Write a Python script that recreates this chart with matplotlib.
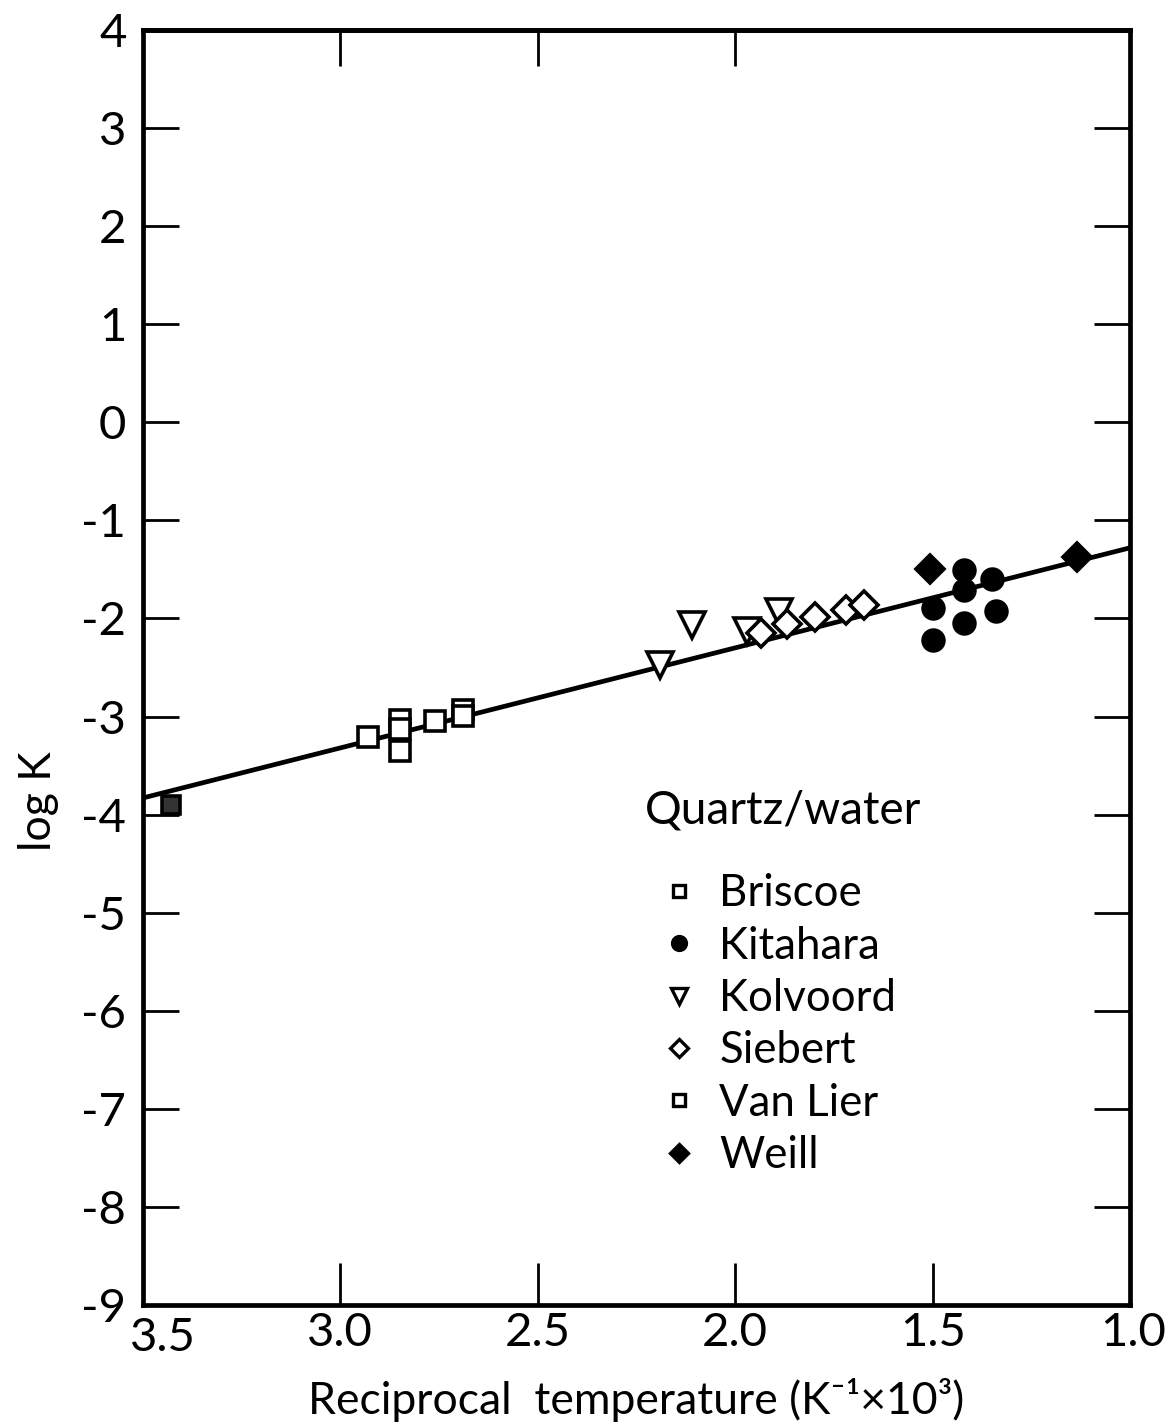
import matplotlib
matplotlib.use("Agg")
import matplotlib.pyplot as plt
import matplotlib.transforms as mtransforms
from matplotlib.lines import Line2D

plt.rcParams['font.family'] = ['Lato', 'DejaVu Sans']

# ---- data ----
briscoe_x = [2.93, 2.85, 2.85, 2.85, 2.76, 2.69, 2.69]
briscoe_y = [-3.21, -3.04, -3.13, -3.35, -3.05, -2.93, -2.99]

kitahara_x = [1.42, 1.42, 1.35, 1.50, 1.34, 1.42, 1.50]
kitahara_y = [-1.51, -1.71, -1.60, -1.89, -1.92, -2.05, -2.22]

kolvoord_x = [2.11, 2.19, 1.97, 1.89]
kolvoord_y = [-2.07, -2.47, -2.13, -1.93]

siebert_x = [1.935, 1.868, 1.797, 1.72, 1.674]
siebert_y = [-2.15, -2.06, -1.99, -1.91, -1.86]

vanlier_x = [3.43]
vanlier_y = [-3.90]

weill_x = [1.506, 1.135]
weill_y = [-1.50, -1.37]

fit_x = [3.5, 1.0]
fit_y = [-3.83, -1.28]

x_ticks = [3.5, 3.0, 2.5, 2.0, 1.5, 1.0]
x_ticklabels = ["3.5", "3.0", "2.5", "2.0", "1.5", "1.0"]
x_top_ticks = [3.0, 2.5, 2.0]
y_ticks = [4, 3, 2, 1, 0, -1, -2, -3, -4, -5, -6, -7, -8, -9]
y_ticklabels = ["4", "3", "2", "1", "0", "-1", "-2", "-3", "-4", "-5", "-6", "-7", "-8", "-9"]

legend_title = "Quartz/water"
series_names = ["Briscoe", "Kitahara", "Kolvoord", "Siebert", "Van Lier", "Weill"]

# ---- figure ----
fig = plt.figure(figsize=(11.68, 14.25), dpi=100)
ax = fig.add_axes([143 / 1168, 0.0842, (1130 - 143) / 1168, 0.8948])

ax.plot(fit_x, fit_y, color='black', lw=3.4, zorder=2)

mew = 2.6
ax.plot(briscoe_x, briscoe_y, ls='none', marker='s', ms=14, mfc='white', mec='black', mew=mew, zorder=3)
ax.plot(kitahara_x, kitahara_y, ls='none', marker='o', ms=15, mfc='black', mec='black', mew=mew, zorder=3)
ax.plot(kolvoord_x, kolvoord_y, ls='none', marker='v', ms=19, mfc='white', mec='black', mew=mew, zorder=3)
ax.plot(siebert_x, siebert_y, ls='none', marker='D', ms=14, mfc='white', mec='black', mew=mew, zorder=3)
ax.plot(vanlier_x, vanlier_y, ls='none', marker='s', ms=13, mfc='#333333', mec='black', mew=mew, zorder=3)
ax.plot(weill_x, weill_y, ls='none', marker='D', ms=14, mfc='black', mec='black', mew=mew, zorder=3)

ax.set_xlim(3.5, 1.0)
ax.set_ylim(-9, 4)

ax.set_xticks(x_ticks)
ax.set_xticklabels(x_ticklabels)
ax.set_yticks(y_ticks)
ax.set_yticklabels(y_ticklabels)

ax.tick_params(axis='x', which='both', direction='in', length=30, width=2.0,
               labelsize=34, pad=5, top=False, bottom=True)
ax.tick_params(axis='y', which='both', direction='in', length=26, width=2.0,
               labelsize=34, pad=12, left=True, right=True)

# nudge the end labels of the x axis as in the original
xlabels = ax.get_xticklabels()
xlabels[0].set_transform(xlabels[0].get_transform() +
                         mtransforms.ScaledTranslation(0.2, -0.05, fig.dpi_scale_trans))
xlabels[-1].set_transform(xlabels[-1].get_transform() +
                          mtransforms.ScaledTranslation(0.03, 0, fig.dpi_scale_trans))

top = ax.secondary_xaxis('top')
top.set_xticks(x_top_ticks)
top.set_xticklabels([])
top.tick_params(direction='in', length=26, width=2.0)

for sp in ax.spines.values():
    sp.set_linewidth(3.4)
for sp in top.spines.values():
    sp.set_linewidth(3.4)

ax.set_xlabel("Reciprocal  temperature (K\u207b\u00b9\u00d710\u00b3)", fontsize=32, labelpad=14)
ax.set_ylabel("log K", fontsize=32)
ax.yaxis.set_label_coords(-0.085, 0.395)

handles = [
    Line2D([], [], ls='none', marker='s', ms=9, mfc='white', mec='black', mew=2.4),
    Line2D([], [], ls='none', marker='o', ms=10, mfc='black', mec='black', mew=2.4),
    Line2D([], [], ls='none', marker='v', ms=12, mfc='white', mec='black', mew=2.4),
    Line2D([], [], ls='none', marker='D', ms=9, mfc='white', mec='black', mew=2.4),
    Line2D([], [], ls='none', marker='s', ms=9, mfc='white', mec='black', mew=2.4),
    Line2D([], [], ls='none', marker='D', ms=9, mfc='black', mec='black', mew=2.4),
]
leg = ax.legend(handles, series_names, title=legend_title, frameon=False,
                loc='upper left', bbox_to_anchor=(0.491, 0.418),
                fontsize=31.5, title_fontsize=33, handlelength=1.55,
                handletextpad=0.15, labelspacing=0.26, alignment='left',
                borderaxespad=0.0)
leg._legend_box.sep = 30

fig.savefig("out.png", dpi=100)
